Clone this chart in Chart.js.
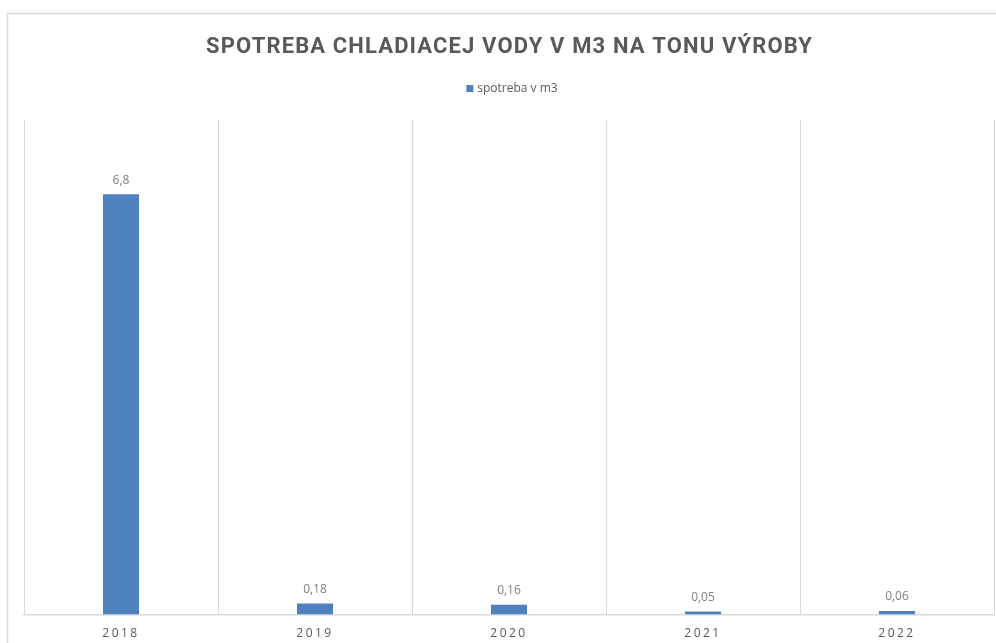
<!DOCTYPE html>
<html>
<head>
<meta charset="utf-8">
<script src="https://cdn.jsdelivr.net/npm/chart.js@4.4.1/dist/chart.umd.min.js"></script>
<style>
  html, body { margin: 0; padding: 0; background: #fff; }
  #wrap { width: 996px; height: 643px; }
</style>
</head>
<body>
<div id="wrap"><canvas id="waterChart" width="996" height="643"></canvas></div>
<script>
const years = ["2018", "2019", "2020", "2021", "2022"];
const usage = [6.8, 0.18, 0.16, 0.05, 0.06];
const seriesName = "spotreba v m3";
const chartTitle = "SPOTREBA CHLADIACEJ VODY V M3 NA TONU VÝROBY";

const labelFont = '"Open Sans", sans-serif';
const titleFont = 'Roboto, "Open Sans", sans-serif';
const barColor = "#4f81bd";

// frame, title, legend, value labels and spaced axis labels
const decor = {
  id: "decor",
  beforeDraw(chart) {
    const ctx = chart.ctx;
    ctx.save();
    ctx.strokeStyle = "#d9d9d9";
    ctx.lineWidth = 1.5;
    ctx.beginPath();
    ctx.moveTo(7.5, 643);
    ctx.lineTo(7.5, 13.5);
    ctx.lineTo(996, 13.5);
    ctx.stroke();
    ctx.restore();
  },
  afterDatasetsDraw(chart) {
    const ctx = chart.ctx;
    const meta = chart.getDatasetMeta(0);
    ctx.save();
    ctx.font = "12px " + labelFont;
    ctx.fillStyle = "#808080";
    ctx.textAlign = "center";
    ctx.textBaseline = "bottom";
    meta.data.forEach((bar, i) => {
      ctx.fillText(String(usage[i]).replace(".", ","), bar.x, bar.y - 8);
    });
    ctx.restore();
    ctx.letterSpacing = "2.5px";
  },
  afterDraw(chart) {
    const ctx = chart.ctx;
    const cx = (chart.chartArea.left + chart.chartArea.right) / 2;
    ctx.letterSpacing = "0px";

    // title, letter-spaced to the width of the original
    ctx.save();
    ctx.font = "bold 22px " + titleFont;
    const plain = ctx.measureText(chartTitle).width;
    const gap = Math.max(0, (607 - plain) / chartTitle.length);
    ctx.letterSpacing = gap + "px";
    ctx.fillStyle = "#595959";
    ctx.textAlign = "center";
    ctx.textBaseline = "alphabetic";
    ctx.fillText(chartTitle, cx + gap / 2, 53);
    ctx.restore();

    // legend
    ctx.save();
    ctx.font = "12px " + labelFont;
    const tw = ctx.measureText(seriesName).width;
    const total = 7 + 4 + tw;
    const x0 = cx + 3 - total / 2;
    ctx.fillStyle = barColor;
    ctx.fillRect(x0, 85, 7, 7);
    ctx.fillStyle = "#595959";
    ctx.textAlign = "left";
    ctx.textBaseline = "middle";
    ctx.fillText(seriesName, x0 + 11, 88.5);
    ctx.restore();
  }
};

new Chart(document.getElementById("waterChart"), {
  type: "bar",
  data: {
    labels: years,
    datasets: [{
      label: seriesName,
      data: usage,
      backgroundColor: barColor,
      borderWidth: 0,
      barPercentage: 0.186,
      categoryPercentage: 1
    }]
  },
  options: {
    responsive: false,
    animation: false,
    layout: { padding: { top: 120, left: 24, right: 2, bottom: -10 } },
    plugins: {
      title: { display: false },
      tooltip: { enabled: false },
      legend: { display: false }
    },
    scales: {
      x: {
        offset: true,
        grid: { color: "#d9d9d9", lineWidth: 1, drawTicks: false, offset: true },
        border: { color: "#d9d9d9", width: 1.5 },
        ticks: { z: 1, color: "#595959", padding: 12, font: { family: labelFont, size: 12 } }
      },
      y: {
        display: false,
        min: 0,
        max: 8
      }
    }
  },
  plugins: [decor]
});
</script>
</body>
</html>
